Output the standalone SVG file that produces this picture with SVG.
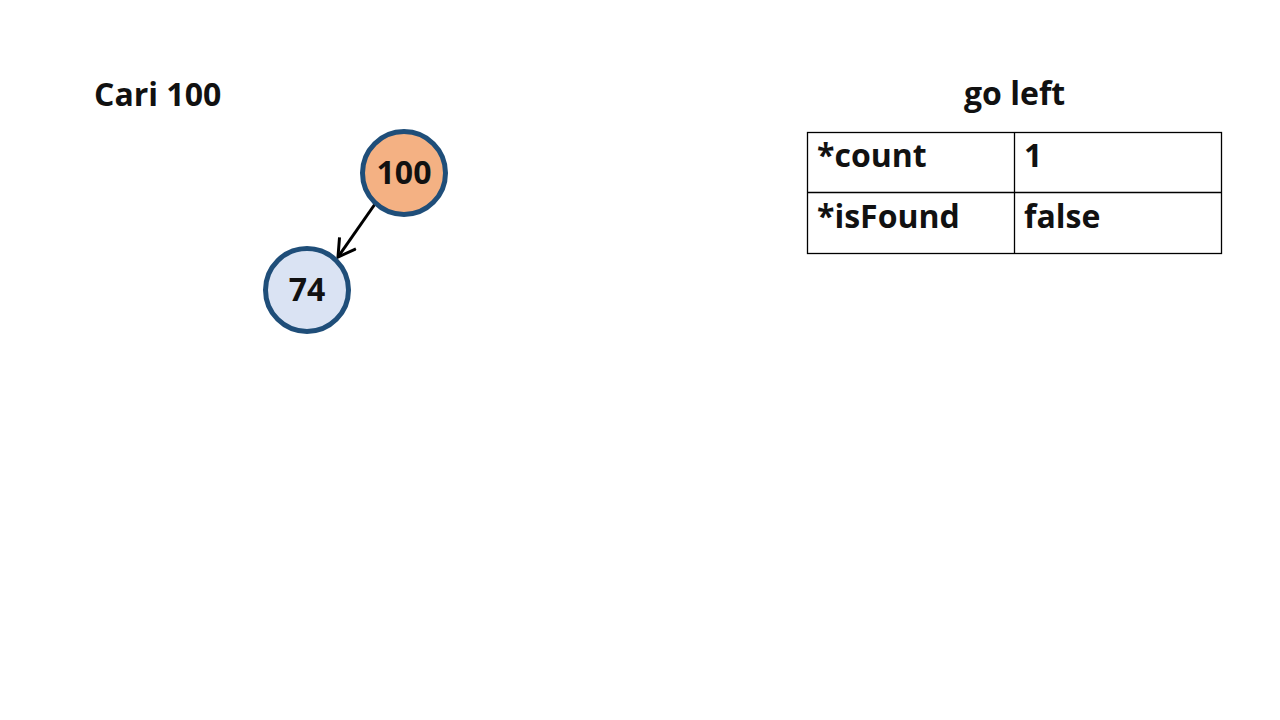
<svg xmlns="http://www.w3.org/2000/svg" width="1280" height="720" viewBox="0 0 1280 720">
<style>
text{font-family:"Open Sans","Liberation Sans",sans-serif;font-weight:bold;fill:#111}
.t{font-size:32px}
.n{font-size:32px;text-anchor:middle}
.c{stroke:#1f4e79;stroke-width:5}
.g{stroke:#000;stroke-width:1.3;fill:none}
</style>
<defs>
<marker id="ah" markerWidth="22" markerHeight="22" refX="19" refY="11" orient="auto" markerUnits="userSpaceOnUse" viewBox="0 0 22 22">
<path d="M2,1 L19,11 L2,21" fill="none" stroke="#000" stroke-width="3"/>
</marker>
</defs>
<rect width="1280" height="720" fill="#fff"/>
<text class="t" x="94" y="106">Cari 100</text>
<text class="t" x="964" y="105">go left</text>
<g id="connectors">
<line x1="375" y1="204" x2="338" y2="257" stroke="#000" stroke-width="3" marker-end="url(#ah)"/>
</g>
<g id="node100">
<circle class="c" cx="404" cy="173" r="41.5" fill="#f4b183"/>
<text class="n" x="404" y="184">100</text>
</g>
<g id="node74">
<circle class="c" cx="307" cy="290" r="41.5" fill="#dae3f3"/>
<text class="n" x="307" y="301">74</text>
</g>
<g id="table">
<rect class="g" x="807.5" y="132.5" width="414" height="121"/>
<line class="g" x1="807" y1="192.5" x2="1222" y2="192.5"/>
<line class="g" x1="1014.5" y1="132" x2="1014.5" y2="254"/>
<text class="t" x="817" y="167">*count</text>
<text class="t" x="1024" y="167">1</text>
<text class="t" x="817" y="228">*isFound</text>
<text class="t" x="1024" y="228">false</text>
</g>
</svg>
